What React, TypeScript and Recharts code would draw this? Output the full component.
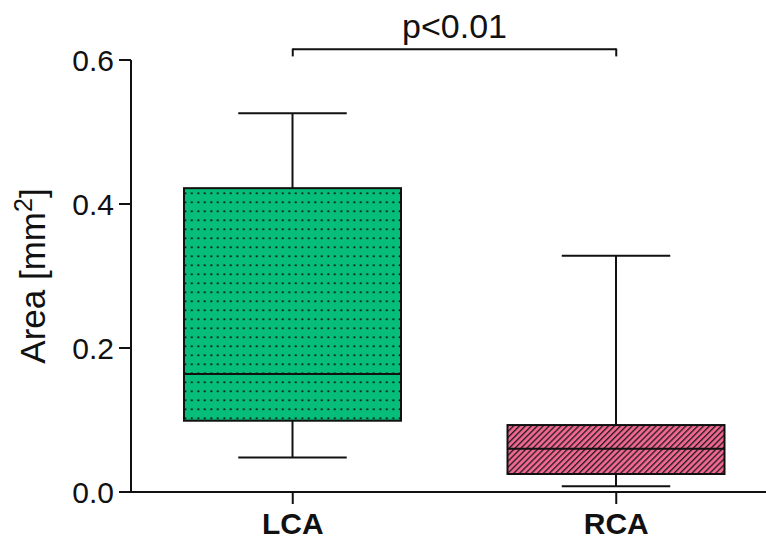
import React from "react";
import {
  ComposedChart,
  Bar,
  XAxis,
  YAxis,
  ReferenceLine,
} from "recharts";

const categories = ["LCA", "RCA"];
const whiskerLow = [0.048, 0.008];
const q1 = [0.099, 0.025];
const median = [0.164, 0.06];
const q3 = [0.422, 0.093];
const whiskerHigh = [0.526, 0.328];
const yTicks = [0, 0.2, 0.4, 0.6];
const pLabel = "p<0.01";

const GREEN = "#06be7a";
const PINK = "#ef6891";
const FONT = "'Liberation Sans', Arial, sans-serif";

const data = categories.map((name, i) => ({
  name,
  low: whiskerLow[i],
  q1: q1[i],
  median: median[i],
  q3: q3[i],
  high: whiskerHigh[i],
}));

function BoxShape(props: any) {
  const { x, y, width, height, payload, index } = props;
  const top = Math.min(y, y + height);
  const h = Math.abs(height);
  const k = h / (payload.q3 - payload.q1);
  const py = (v: number) => top + h - (v - payload.q1) * k;
  const cx = x + width / 2;
  const cap = width / 4;
  const id = index === 0 ? "dots" : "hatch";
  return (
    <g>
      <defs>
        <pattern id="dots" patternUnits="userSpaceOnUse" width={6.5} height={9}>
          <rect width={6.5} height={9} fill={GREEN} />
          <rect x={2.4} y={3.4} width={1.8} height={1.8} fill="#111" />
        </pattern>
        <pattern
          id="hatch"
          patternUnits="userSpaceOnUse"
          width={4.2}
          height={4.2}
          patternTransform="rotate(45)"
        >
          <rect width={4.2} height={4.2} fill={PINK} />
          <line x1={0.7} y1={0} x2={0.7} y2={4.2} stroke="#111" strokeWidth={1.2} />
        </pattern>
      </defs>
      {/* whiskers */}
      <line x1={cx} x2={cx} y1={py(payload.high)} y2={top} stroke="#111" strokeWidth={2} />
      <line x1={cx} x2={cx} y1={top + h} y2={py(payload.low)} stroke="#111" strokeWidth={2} />
      <line x1={cx - cap} x2={cx + cap} y1={py(payload.high)} y2={py(payload.high)} stroke="#111" strokeWidth={2} />
      <line x1={cx - cap} x2={cx + cap} y1={py(payload.low)} y2={py(payload.low)} stroke="#111" strokeWidth={2} />
      {/* box */}
      <rect x={x} y={top} width={width} height={h} fill={`url(#${id})`} stroke="#111" strokeWidth={2} />
      <line x1={x} x2={x + width} y1={py(payload.median)} y2={py(payload.median)} stroke="#111" strokeWidth={2} />
    </g>
  );
}

function YLabel(props: any) {
  const { viewBox } = props;
  const cy = viewBox.y + viewBox.height / 2;
  const x = 45;
  return (
    <text
      x={x}
      y={cy}
      transform={`rotate(-90, ${x}, ${cy})`}
      textAnchor="middle"
      fontFamily={FONT}
      fontSize={35}
      fill="#111"
    >
      <tspan>Area [mm</tspan>
      <tspan fontSize={25} dy={-13}>2</tspan>
      <tspan dy={13}>]</tspan>
    </text>
  );
}

export default function App() {
  return (
    <div
      style={{
        position: "fixed",
        left: 0,
        top: 0,
        width: 766,
        height: 540,
        overflow: "hidden",
        background: "#fff",
      }}
    >
      <ComposedChart
        width={778}
        height={540}
        data={data}
        margin={{ top: 60, right: 0, bottom: 0, left: 0 }}
      >
        <XAxis
          dataKey="name"
          height={48}
          tickSize={12}
          tickMargin={9}
          axisLine={{ stroke: "#111", strokeWidth: 2 }}
          tickLine={{ stroke: "#111", strokeWidth: 2 }}
          tick={{ fill: "#111", fontSize: 30, fontWeight: "bold", fontFamily: FONT }}
        />
        <YAxis
          width={131}
          domain={[0, 0.6]}
          ticks={yTicks}
          tickFormatter={(v: number) => v.toFixed(1)}
          tickSize={12}
          tickMargin={5}
          axisLine={{ stroke: "#111", strokeWidth: 2 }}
          tickLine={{ stroke: "#111", strokeWidth: 2 }}
          tick={{ fill: "#111", fontSize: 30, fontFamily: FONT }}
          label={<YLabel />}
        />
        <Bar
          dataKey={(d: any) => [d.q1, d.q3]}
          barSize={217}
          shape={<BoxShape />}
          isAnimationActive={false}
        />
        <ReferenceLine
          ifOverflow="visible"
          segment={[
            { x: categories[0], y: 0.615 },
            { x: categories[1], y: 0.615 },
          ]}
          stroke="#111"
          strokeWidth={2}
          label={{
            value: pLabel,
            position: "top",
            offset: 11,
            fill: "#111",
            fontSize: 34,
            fontFamily: FONT,
          }}
        />
        <ReferenceLine
          ifOverflow="visible"
          segment={[
            { x: categories[0], y: 0.616 },
            { x: categories[0], y: 0.605 },
          ]}
          stroke="#111"
          strokeWidth={2}
        />
        <ReferenceLine
          ifOverflow="visible"
          segment={[
            { x: categories[1], y: 0.616 },
            { x: categories[1], y: 0.605 },
          ]}
          stroke="#111"
          strokeWidth={2}
        />
      </ComposedChart>
    </div>
  );
}
